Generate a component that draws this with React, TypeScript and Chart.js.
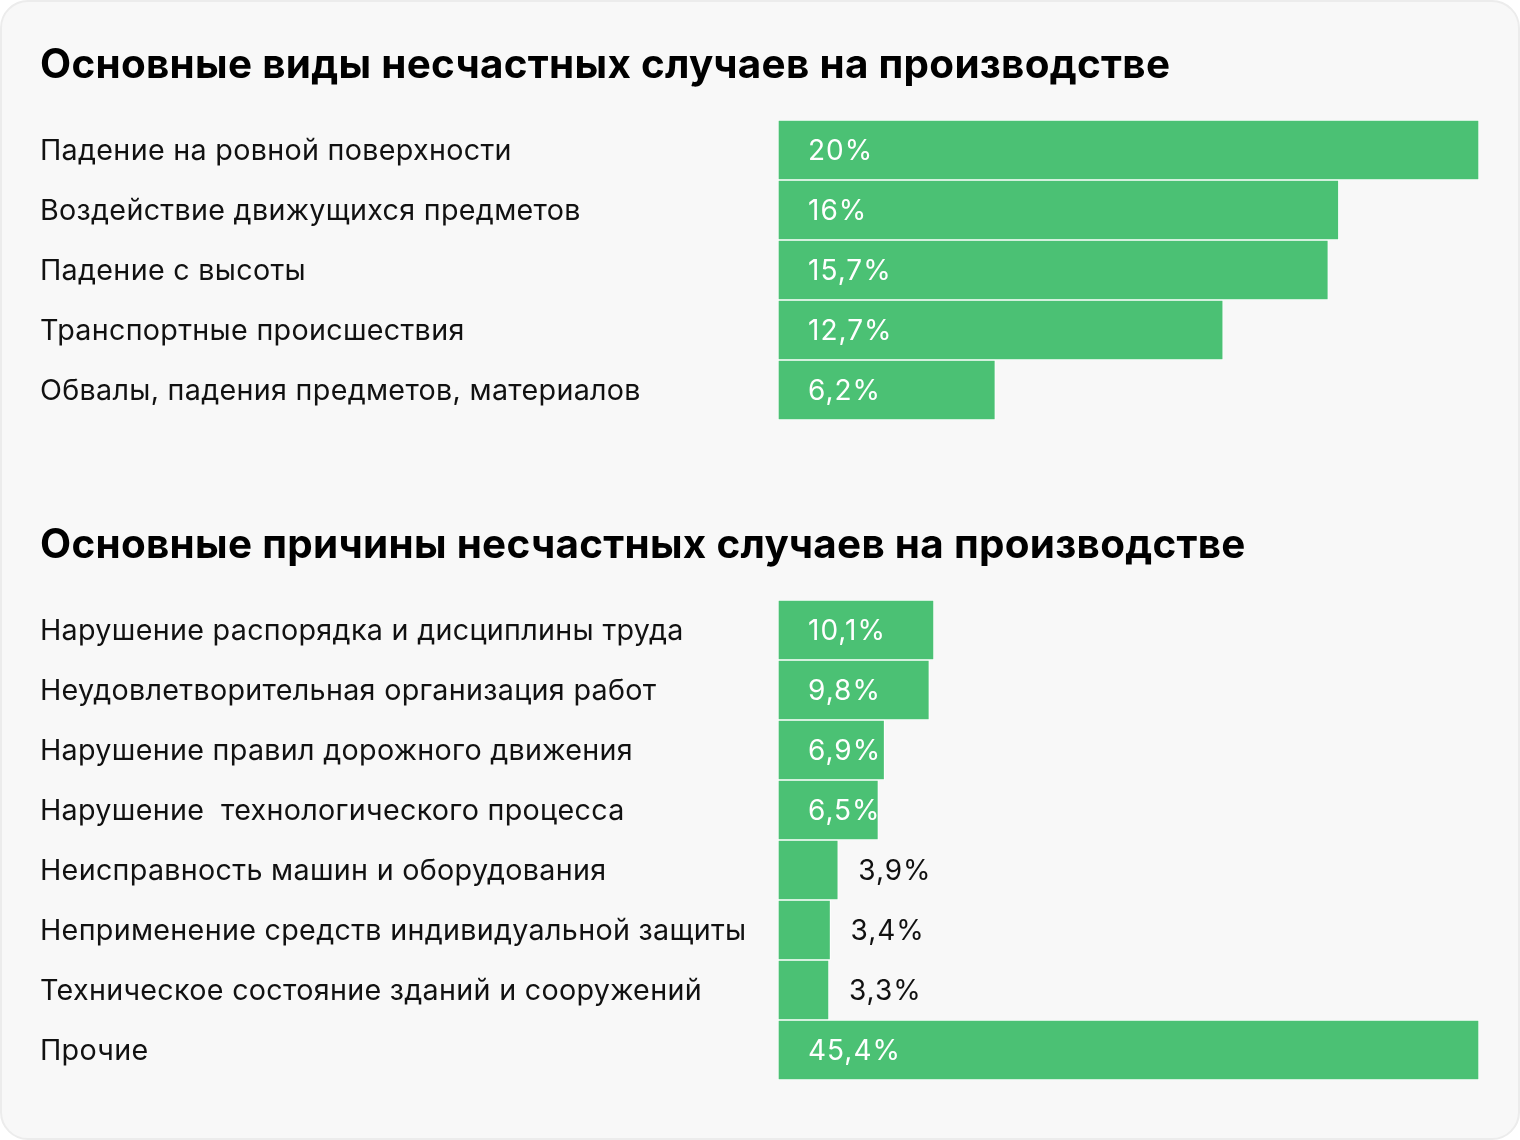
import React, { useEffect, useRef } from "react";
import { Chart, registerables } from "chart.js";

Chart.register(...registerables);

const title1 = "Основные виды несчастных случаев на производстве";
const categories1 = [
  "Падение на ровной поверхности",
  "Воздействие движущихся предметов",
  "Падение с высоты",
  "Транспортные происшествия",
  "Обвалы, падения предметов, материалов",
];
const values1 = [20, 16, 15.7, 12.7, 6.2];

const title2 = "Основные причины несчастных случаев на производстве";
const categories2 = [
  "Нарушение распорядка и дисциплины труда",
  "Неудовлетворительная организация работ",
  "Нарушение правил дорожного движения",
  "Нарушение  технологического процесса",
  "Неисправность машин и оборудования",
  "Неприменение средств индивидуальной защиты",
  "Техническое состояние зданий и сооружений",
  "Прочие",
];
const values2 = [10.1, 9.8, 6.9, 6.5, 3.9, 3.4, 3.3, 45.4];

const GREEN = "#4bc174";
const FONT = "Inter";

const spacing = {
  id: "spacing",
  beforeDraw(chart: any) {
    chart.ctx.letterSpacing = "0.3px";
  },
};

const valueLabels = {
  id: "valueLabels",
  afterDatasetsDraw(chart: any) {
    const { ctx } = chart;
    const meta = chart.getDatasetMeta(0);
    const data = chart.data.datasets[0].data as number[];
    ctx.save();
    ctx.font = `400 28px ${FONT}`;
    ctx.letterSpacing = "1px";
    ctx.textBaseline = "middle";
    ctx.textAlign = "left";
    meta.data.forEach((bar: any, i: number) => {
      const text = String(data[i]).replace(".", ",") + "%";
      const w = bar.x - bar.base;
      if (w >= 90) {
        ctx.fillStyle = "#ffffff";
        ctx.fillText(text, bar.base + 30, bar.y + 2);
      } else {
        ctx.fillStyle = "#111111";
        ctx.fillText(text, bar.x + 20, bar.y + 2);
      }
    });
    ctx.restore();
  },
};

function BarChart({ title, categories, values, height }: { title: string; categories: string[]; values: number[]; height: number }) {
  const ref = useRef<HTMLCanvasElement | null>(null);
  useEffect(() => {
    if (!ref.current) return;
    const chart = new Chart(ref.current, {
      type: "bar",
      data: {
        labels: categories,
        datasets: [
          {
            data: values,
            backgroundColor: GREEN,
            borderColor: "#ffffff",
            borderWidth: 1,
            borderSkipped: false,
            categoryPercentage: 1,
            barPercentage: 1,
          },
        ],
      },
      options: {
        indexAxis: "y",
        animation: false,
        responsive: false,
        maintainAspectRatio: false,
        layout: { padding: { left: 40, right: 41, top: 0, bottom: height - 120 - categories.length * 60 } },
        plugins: {
          legend: { display: false },
          tooltip: { enabled: false },
          title: {
            display: true,
            text: title,
            align: "start",
            color: "#000000",
            font: { family: FONT, size: 40.4, weight: "bold", lineHeight: 1.2 },
            padding: { top: 42, bottom: 120 - 42 - 48.48 },
          },
        },
        scales: {
          x: { display: false, min: 0, max: Math.max(...values) },
          y: {
            position: "left",
            grid: { display: false, drawTicks: false },
            border: { display: false },
            ticks: {
              crossAlign: "far",
              color: "#111111",
              font: { family: FONT, size: 28.7 },
              padding: 0,
              labelOffset: 1.5,
            },
            afterFit(scale: any) {
              scale.width = 738;
            },
          },
        },
      },
      plugins: [spacing, valueLabels],
    } as any);
    return () => chart.destroy();
  }, []);
  return <canvas ref={ref} width={1520} height={height} style={{ display: "block", width: 1520, height }} />;
}

export default function App() {
  return (
    <div
      style={{
        position: "absolute",
        left: 0,
        top: 0,
        width: 1520,
        height: 1140,
        boxSizing: "border-box",
        background: "#f8f8f8",
        border: "2px solid #ececec",
        borderRadius: 28,
        overflow: "hidden",
      }}
    >
      <div style={{ position: "absolute", left: -2, top: -2 }}>
        <BarChart title={title1} categories={categories1} values={values1} height={480} />
      </div>
      <div style={{ position: "absolute", left: -2, top: 478 }}>
        <BarChart title={title2} categories={categories2} values={values2} height={660} />
      </div>
    </div>
  );
}
